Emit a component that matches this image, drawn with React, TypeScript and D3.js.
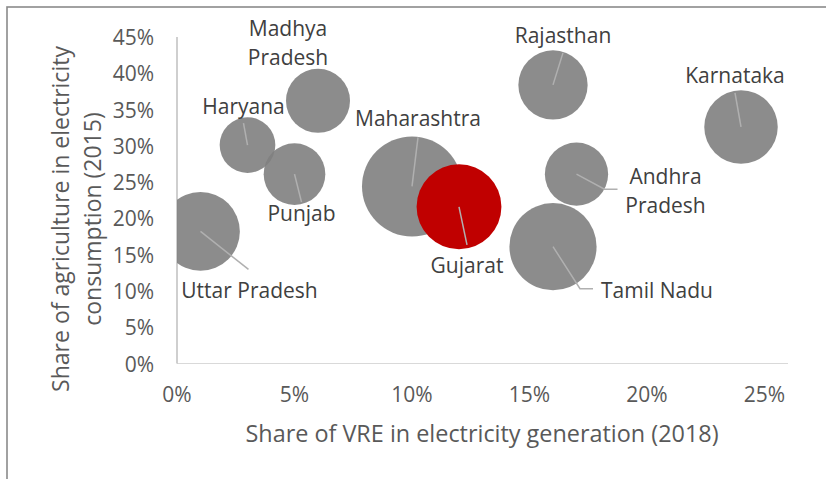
import * as d3 from 'd3';

const states = ['Uttar Pradesh', 'Haryana', 'Punjab', 'Madhya Pradesh', 'Maharashtra', 'Gujarat', 'Rajasthan', 'Tamil Nadu', 'Andhra Pradesh', 'Karnataka'];
const vreShare = [0.01, 0.03, 0.05, 0.06, 0.10, 0.12, 0.16, 0.16, 0.17, 0.24];
const agriShare = [0.182, 0.301, 0.261, 0.362, 0.244, 0.216, 0.384, 0.161, 0.261, 0.326];
const bubbleSize = [62, 31, 38, 41, 100, 72, 48, 76, 40, 54];
const highlight = 'Gujarat';
const xTicks = [0, 0.05, 0.10, 0.15, 0.20, 0.25];
const yTicks = [0, 0.05, 0.10, 0.15, 0.20, 0.25, 0.30, 0.35, 0.40, 0.45];

// label placement, pixel offsets from bubble centre (layout only)
const labelLayout: Record<string, { lines: string[]; dx: number; dy: number; anchor?: string; leader: [number, number][] }> = {
  'Uttar Pradesh': { lines: ['Uttar Pradesh'], dx: 49, dy: 59, leader: [[48, 38]] },
  'Haryana': { lines: ['Haryana'], dx: -4, dy: -39, leader: [[-4, -22]] },
  'Punjab': { lines: ['Punjab'], dx: 7, dy: 39, leader: [[7, 28]] },
  'Madhya Pradesh': { lines: ['Madhya', 'Pradesh'], dx: -30, dy: -58.5, leader: [] },
  'Maharashtra': { lines: ['Maharashtra'], dx: 6, dy: -68, leader: [[6, -49]] },
  'Gujarat': { lines: ['Gujarat'], dx: 8, dy: 58, leader: [[8, 38]] },
  'Rajasthan': { lines: ['Rajasthan'], dx: 10, dy: -50, leader: [[10, -32]] },
  'Tamil Nadu': { lines: ['Tamil Nadu'], dx: 48, dy: 43, anchor: 'start', leader: [[27, 42], [40, 42]] },
  'Andhra Pradesh': { lines: ['Andhra', 'Pradesh'], dx: 89, dy: 16.5, leader: [[28, 15], [41, 15]] },
  'Karnataka': { lines: ['Karnataka'], dx: -6, dy: -52, leader: [[-6, -34]] },
};

const W = 826;
const H = 479;
const plot = { left: 177, right: 788, top: 37, bottom: 363.5 };
const font = '"Open Sans", sans-serif';

export default function App() {
  const x = d3.scaleLinear().domain([0, 0.26]).range([plot.left, plot.right]);
  const y = d3.scaleLinear().domain([0, 0.45]).range([plot.bottom, plot.top]);
  const r = d3.scaleSqrt().domain([0, d3.max(bubbleSize) as number]).range([0, 50]);
  const pct = d3.format('.0%');

  const points = states.map((s, i) => ({ name: s, cx: x(vreShare[i]), cy: y(agriShare[i]), r: r(bubbleSize[i]) }));
  const line = d3.line();

  return (
    <svg width={W} height={H} style={{ position: 'absolute', left: 0, top: 0, background: '#fff' }} fontFamily={font}>
      <rect x={7} y={7} width={W + 20} height={H + 20} fill="#fff" stroke="#8a8a8a" strokeWidth={1.6} />
      <defs>
        <clipPath id="plotClip">
          <rect x={plot.left} y={0} width={plot.right - plot.left + 40} height={plot.bottom} />
        </clipPath>
      </defs>

      {/* axes */}
      <line x1={plot.left} x2={plot.right} y1={plot.bottom} y2={plot.bottom} stroke="#d9d9d9" strokeWidth={1} />
      <line x1={plot.left} x2={plot.left} y1={plot.top} y2={plot.bottom} stroke="#bfbfbf" strokeWidth={1.5} />
      {yTicks.map(t => (
        <text key={t} x={154} y={y(t)} textAnchor="end" dominantBaseline="central" fontSize={21} fill="#595959">{pct(t)}</text>
      ))}
      {xTicks.map(t => (
        <text key={t} x={x(t)} y={394} textAnchor="middle" dominantBaseline="central" fontSize={21} fill="#595959">{pct(t)}</text>
      ))}
      <text x={482} y={433} textAnchor="middle" dominantBaseline="central" fontSize={23.4} fill="#595959">
        Share of VRE in electricity generation (2018)
      </text>
      <g transform="translate(60,219) rotate(-90)">
        <text x={0} y={0} textAnchor="middle" dominantBaseline="central" fontSize={23} fill="#595959">Share of agriculture in electricity</text>
        <text x={0} y={32} textAnchor="middle" dominantBaseline="central" fontSize={23} fill="#595959">consumption (2015)</text>
      </g>

      {/* bubbles */}
      <g clipPath="url(#plotClip)">
        {points.map(p => (
          <circle key={p.name} cx={p.cx} cy={p.cy} r={p.r}
            fill={p.name === highlight ? '#c00000' : '#7f7f7f'}
            fillOpacity={p.name === highlight ? 1 : 0.9} />
        ))}
      </g>

      {/* leader lines */}
      {points.map(p => {
        const L = labelLayout[p.name];
        if (!L.leader.length) return null;
        const pts: [number, number][] = [[p.cx, p.cy], ...L.leader.map(([dx, dy]) => [p.cx + dx, p.cy + dy] as [number, number])];
        return <path key={p.name} d={line(pts) as string} fill="none" stroke="#b0b0b0" strokeWidth={1.5} />;
      })}

      {/* labels */}
      {points.map(p => {
        const L = labelLayout[p.name];
        const n = L.lines.length;
        return (
          <text key={p.name} x={p.cx + L.dx} textAnchor={L.anchor ?? 'middle'} fontSize={21} fill="#404040">
            {L.lines.map((ln, i) => (
              <tspan key={i} x={p.cx + L.dx} y={p.cy + L.dy + (i - (n - 1) / 2) * 29} dominantBaseline="central">{ln}</tspan>
            ))}
          </text>
        );
      })}
    </svg>
  );
}
